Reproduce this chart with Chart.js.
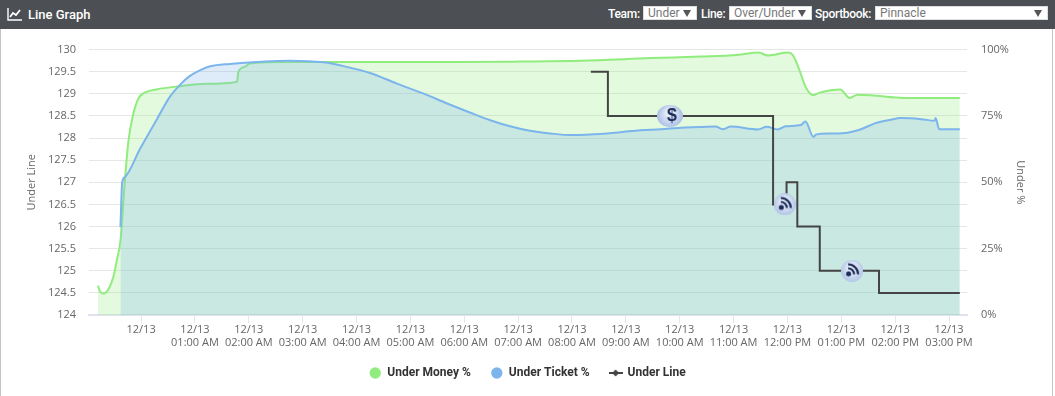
<!DOCTYPE html>
<html>
<head>
<meta charset="utf-8">
<title>Line Graph</title>
<script src="https://cdn.jsdelivr.net/npm/chart.js@4"></script>
<style>
  html, body { margin: 0; padding: 0; background: #fff; overflow: hidden; }
  body { width: 1055px; height: 396px; font-family: Roboto, sans-serif; position: relative; }
  .edge { position: absolute; top: 29px; bottom: 0; width: 1px; background: #c4c4c4; }
  .head { position: absolute; left: 0; top: 0; width: 1055px; height: 29px; background: #4c4f54; color: #fff; }
  .head svg { position: absolute; left: 7px; top: 7px; }
  .head .title { position: absolute; left: 28px; top: 7px; font-size: 13px; font-weight: 500; }
  .head label { position: absolute; top: 7px; font-size: 12px; font-weight: 500; letter-spacing: -0.3px; }
  .head select {
    position: absolute; top: 6px; appearance: none; height: 14px; border: 1px solid #ddd; border-radius: 0; padding: 0 0 0 4px; margin: 0;
    font: 12px Roboto, sans-serif; line-height: 12px; color: #777; background: #fff no-repeat right 5px center;
    background-image: url("data:image/svg+xml,%3Csvg xmlns='http://www.w3.org/2000/svg' width='8' height='7'%3E%3Cpath d='M0 0h8L4 7z' fill='%23555'/%3E%3C/svg%3E");
  }
  .wrap { position: absolute; left: 0; top: 29px; width: 1055px; height: 360px; }
</style>
</head>
<body>
<div class="head">
  <svg width="16" height="15" viewBox="0 0 16 15"><path d="M1 1v12h14" fill="none" stroke="#fff" stroke-width="1.4"/><path d="M3 10l3-4 3 2 4-5" fill="none" stroke="#fff" stroke-width="1.8"/></svg>
  <span class="title">Line Graph</span>
  <label style="left:608px">Team:</label><select style="left:643px;width:54px"><option>Under</option></select>
  <label style="left:701px">Line:</label><select style="left:729px;width:83px"><option>Over/Under</option></select>
  <label style="left:815px">Sportbook:</label><select style="left:875px;width:173px"><option>Pinnacle</option></select>
</div>
<div class="wrap"><canvas id="lineGraph"></canvas></div>
<div class="edge" style="left:0"></div>
<div class="edge" style="left:1052px"></div>
<script>
// x values are minutes after 12/13 midnight
const moneyMinutes = [-48, -46, -42, -37, -31, -27, -23, -18, -14, -9, -3, 4, 17, 43, 73, 107, 108, 110, 117, 121, 166, 233, 345, 423, 489, 568, 623, 664, 688, 698, 721, 726, 732, 741, 749, 755, 768, 779, 789, 798, 813, 850, 874, 912];
const moneyPct = [11.1, 9, 8.1, 9.3, 14.2, 20.6, 28, 50.8, 65.8, 75.3, 81.6, 83.8, 85, 86.2, 87.1, 87.9, 91, 92.5, 93.8, 94.8, 95.3, 95.3, 95.3, 95.5, 95.8, 96.8, 97.4, 98, 98.9, 97.8, 98.9, 97.9, 93.5, 85.4, 82.8, 83.7, 84.7, 85, 81.8, 83, 82.8, 81.8, 81.8, 81.8];
const ticketMinutes = [-23, -21, -18, -1, 17, 32, 43, 54, 66, 77, 99, 129, 166, 203, 229, 255, 285, 314, 341, 367, 389, 411, 433, 456, 478, 500, 534, 556, 579, 601, 623, 640, 648, 657, 687, 697, 709, 718, 735, 740, 749, 752, 768, 787, 802, 818, 835, 846, 869, 884, 885, 889, 912];
const ticketPct = [33.1, 50.1, 52, 62.7, 73.4, 82.2, 86.6, 90, 92.3, 93.7, 94.6, 95.3, 95.8, 95.2, 93.5, 91.2, 87.2, 83.5, 79.7, 76.2, 73.4, 71.1, 69.4, 68.4, 67.8, 68, 68.9, 69.6, 70, 70.6, 70.8, 71, 70, 71, 69.9, 70.9, 69.9, 71.1, 71.6, 72.9, 67.1, 68, 68.4, 68.7, 70, 72.3, 73.6, 74.2, 73.8, 73.2, 74.2, 70, 70];
const lineMinutes = [501, 520, 704, 719, 731, 756, 822, 912];
const lineValues = [129.5, 128.5, 126.5, 127, 126, 125, 124.5, 124.5];
const eventMinutes = [589, 717, 792];
const eventValues = [128.5, 126.5, 125];
const eventKinds = ['money', 'rss', 'rss'];
const tickDay = '12/13';
const tickHours = ['01:00 AM', '02:00 AM', '03:00 AM', '04:00 AM', '05:00 AM', '06:00 AM', '07:00 AM', '08:00 AM', '09:00 AM', '10:00 AM', '11:00 AM', '12:00 PM', '01:00 PM', '02:00 PM', '03:00 PM'];

const tickFont = { family: '"Open Sans", sans-serif', size: 11 };

function toPoints(xs, ys) {
    return xs.map((x, i) => ({ x: x, y: ys[i] }));
}

// round badge used for the line move markers
function makeBadge(kind) {
    const c = document.createElement('canvas');
    const w = kind === 'money' ? 26 : 22;
    c.width = w;
    c.height = 22;
    const g = c.getContext('2d');
    const grad = g.createRadialGradient(w / 2, 7, 2, w / 2, 11, 12);
    grad.addColorStop(0, '#f2f5fc');
    grad.addColorStop(1, '#adc1e6');
    g.fillStyle = grad;
    g.beginPath();
    g.ellipse(w / 2, 11, w / 2, 11, 0, 0, Math.PI * 2);
    g.fill();
    g.fillStyle = g.strokeStyle = '#1c2c58';
    if (kind === 'money') {
        g.font = 'bold 18px "Liberation Sans"';
        g.textAlign = 'center';
        g.textBaseline = 'middle';
        g.fillText('$', w / 2 + 2, 11.5);
    } else {
        g.beginPath();
        g.arc(7.5, 14, 2.5, 0, Math.PI * 2);
        g.fill();
        g.lineWidth = 2.2;
        [6, 10].forEach(r => {
            g.beginPath();
            g.arc(7, 14.5, r, -Math.PI / 2, 0);
            g.stroke();
        });
    }
    return c;
}

// legend symbol: short line with a diamond on it
function makeLineKey() {
    const c = document.createElement('canvas');
    c.width = 14;
    c.height = 8;
    const g = c.getContext('2d');
    g.fillStyle = '#444';
    g.fillRect(0, 3, 14, 2);
    g.beginPath();
    g.moveTo(7, 0.5); g.lineTo(10.5, 4); g.lineTo(7, 7.5); g.lineTo(3.5, 4);
    g.fill();
    return c;
}

const ctx = document.getElementById('lineGraph').getContext('2d');
const lineGraph = new Chart(ctx, {
    type: 'line',
    data: {
        datasets: [
            {
                label: 'events',
                data: toPoints(eventMinutes, eventValues),
                yAxisID: 'y',
                showLine: false,
                pointStyle: eventKinds.map(makeBadge),
                pointRadius: 11,
                order: 0
            },
            {
                label: 'Under Line',
                data: toPoints(lineMinutes, lineValues),
                yAxisID: 'y',
                stepped: 'before',
                borderColor: '#444',
                borderWidth: 2,
                pointRadius: 0,
                fill: false,
                order: 1
            },
            {
                label: 'Under Ticket %',
                data: toPoints(ticketMinutes, ticketPct),
                yAxisID: 'y2',
                borderColor: '#7cb5ec',
                backgroundColor: 'rgba(124, 181, 236, 0.25)',
                borderWidth: 2,
                pointRadius: 0,
                cubicInterpolationMode: 'monotone',
                fill: 'start',
                order: 2
            },
            {
                label: 'Under Money %',
                data: toPoints(moneyMinutes, moneyPct),
                yAxisID: 'y2',
                borderColor: '#90ed7d',
                backgroundColor: 'rgba(144, 237, 125, 0.25)',
                borderWidth: 2,
                pointRadius: 0,
                cubicInterpolationMode: 'monotone',
                fill: 'start',
                order: 3
            }
        ]
    },
    options: {
        responsive: true,
        maintainAspectRatio: false,
        animation: false,
        layout: { padding: { top: 20, bottom: 0, left: 0, right: 0 } },
        plugins: {
            tooltip: { enabled: false },
            legend: {
                position: 'bottom',
                labels: {
                    color: '#333',
                    font: { family: 'Roboto, sans-serif', size: 12, weight: 'bold' },
                    usePointStyle: true,
                    boxHeight: 8,
                    padding: 20,
                    generateLabels: () => [
                        { text: 'Under Money %', pointStyle: 'circle', fillStyle: '#90ed7d', strokeStyle: '#90ed7d', lineWidth: 0, fontColor: '#333' },
                        { text: 'Under Ticket %', pointStyle: 'circle', fillStyle: '#7cb5ec', strokeStyle: '#7cb5ec', lineWidth: 0, fontColor: '#333' },
                        { text: 'Under Line', pointStyle: makeLineKey(), fillStyle: '#444', strokeStyle: '#444', lineWidth: 0, fontColor: '#333' }
                    ]
                }
            }
        },
        scales: {
            x: {
                type: 'linear',
                min: -58,
                max: 920,
                afterFit: (scale) => { scale.height = 32; },
                border: { color: '#dfe3ee', width: 2 },
                grid: { drawOnChartArea: false, drawTicks: true, tickLength: 8, tickColor: '#e3e6f2' },
                ticks: {
                    stepSize: 60,
                    includeBounds: false,
                    autoSkip: false,
                    maxRotation: 0,
                    padding: 0,
                    color: '#666',
                    font: tickFont,
                    callback: (value) => {
                        if (value === 0) return tickDay;
                        return [tickDay, tickHours[value / 60 - 1]];
                    }
                }
            },
            y: {
                position: 'left',
                min: 124,
                max: 130,
                afterFit: (scale) => { scale.width = 89; },
                border: { display: false },
                grid: { color: '#e6e6e6', drawTicks: false },
                title: { display: true, text: 'Under Line', color: '#666', font: { family: '"Open Sans", sans-serif', size: 11 }, padding: { top: 25, bottom: 0 } },
                ticks: {
                    stepSize: 0.5,
                    padding: 13,
                    color: '#666',
                    font: tickFont,
                    callback: (value) => String(value)
                }
            },
            y2: {
                position: 'right',
                min: 0,
                max: 100,
                afterFit: (scale) => { scale.width = 88; },
                border: { display: false },
                grid: { drawOnChartArea: false, drawTicks: false },
                title: { display: true, text: 'Under %', color: '#666', font: { family: '"Open Sans", sans-serif', size: 11 }, padding: { top: 28, bottom: 0 } },
                ticks: {
                    stepSize: 25,
                    padding: 14,
                    color: '#666',
                    font: tickFont,
                    callback: (value) => value + '%'
                }
            }
        }
    }
});
</script>
</body>
</html>
